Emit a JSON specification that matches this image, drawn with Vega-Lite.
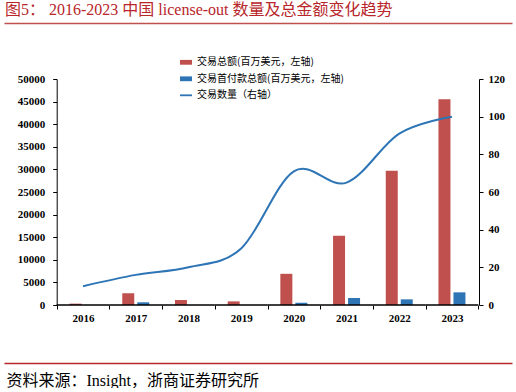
{
  "$schema": "https://vega.github.io/schema/vega-lite/v6.json",
  "padding": {"left": 4, "right": 4, "top": 2, "bottom": 0},
  "background": "white",
  "width": 508,
  "height": 226,
  "title": {"text": "图5：  2016-2023 中国 license-out 数量及总金额变化趋势", "anchor": "start", "frame": "group", "font": "Liberation Serif, Noto Sans CJK SC", "fontSize": 16, "fontWeight": "normal", "color": "#b8262b", "offset": 5, "dx": 1},
  "datasets": {
    "bars": [
      {"year": "2016", "series": "交易总额(百万美元，左轴)", "value": 300},
      {"year": "2017", "series": "交易总额(百万美元，左轴)", "value": 2600},
      {"year": "2018", "series": "交易总额(百万美元，左轴)", "value": 1100},
      {"year": "2019", "series": "交易总额(百万美元，左轴)", "value": 800},
      {"year": "2020", "series": "交易总额(百万美元，左轴)", "value": 6900},
      {"year": "2021", "series": "交易总额(百万美元，左轴)", "value": 15300},
      {"year": "2022", "series": "交易总额(百万美元，左轴)", "value": 29700},
      {"year": "2023", "series": "交易总额(百万美元，左轴)", "value": 45500},
      {"year": "2016", "series": "交易首付款总额(百万美元，左轴)", "value": 0},
      {"year": "2017", "series": "交易首付款总额(百万美元，左轴)", "value": 600},
      {"year": "2018", "series": "交易首付款总额(百万美元，左轴)", "value": 0},
      {"year": "2019", "series": "交易首付款总额(百万美元，左轴)", "value": 0},
      {"year": "2020", "series": "交易首付款总额(百万美元，左轴)", "value": 500},
      {"year": "2021", "series": "交易首付款总额(百万美元，左轴)", "value": 1550},
      {"year": "2022", "series": "交易首付款总额(百万美元，左轴)", "value": 1250},
      {"year": "2023", "series": "交易首付款总额(百万美元，左轴)", "value": 2800}
    ],
    "counts": [
      {"year": "2016", "count": 10},
      {"year": "2017", "count": 16},
      {"year": "2018", "count": 20},
      {"year": "2019", "count": 30},
      {"year": "2020", "count": 71},
      {"year": "2021", "count": 65},
      {"year": "2022", "count": 91},
      {"year": "2023", "count": 100}
    ]
  },
  "layer": [
    {
      "data": {"name": "bars"},
      "mark": {"type": "bar"},
      "encoding": {
        "x": {
          "field": "year", "type": "ordinal",
          "scale": {"paddingInner": 0, "paddingOuter": 0.8197, "align": 0.61},
          "axis": {"orient": "bottom", "offset": -282, "title": null, "labels": false, "ticks": false, "domain": true, "domainColor": "#c0504d", "domainWidth": 1.5, "grid": false}
        },
        "xOffset": {
          "field": "series", "type": "nominal",
          "scale": {"domain": ["交易总额(百万美元，左轴)", "交易首付款总额(百万美元，左轴)"], "paddingInner": 0.2, "paddingOuter": 0.857}
        },
        "y": {
          "field": "value", "type": "quantitative",
          "scale": {"domain": [0, 50000]},
          "axis": {"orient": "left", "offset": -52.7, "values": [0, 5000, 10000, 15000, 20000, 25000, 30000, 35000, 40000, 45000, 50000], "format": "d", "title": null, "labelFont": "Liberation Serif", "labelFontWeight": "bold", "labelFontSize": 11, "labelColor": "black", "labelPadding": 8, "tickSize": 4, "tickColor": "black", "domainColor": "black", "grid": false}
        },
        "color": {
          "field": "series", "type": "nominal",
          "scale": {"domain": ["交易总额(百万美元，左轴)", "交易首付款总额(百万美元，左轴)", "交易数量（右轴）"], "range": ["#c0504d", "#2e75b6", "#2e75b6"]},
          "legend": {
            "title": null, "orient": "none", "legendX": 176, "legendY": -22.7, "padding": 0,
            "labelFont": "Noto Sans CJK SC", "labelFontSize": 10, "labelColor": "black", "labelOffset": 5,
            "symbolSize": 144, "rowPadding": 5.5,
            "encode": {
              "symbols": {
                "update": {
                  "shape": {"signal": "datum.value === '交易数量（右轴）' ? 'M-1,-0.15H1V0.15H-1Z' : 'M-1,-0.4H1V0.4H-1Z'"},
                  "fill": {"scale": "color", "field": "value"},
                  "strokeWidth": {"value": 0}
                }
              }
            }
          }
        }
      }
    },
    {
      "data": {"name": "counts"},
      "mark": {"type": "rect", "fill": null, "stroke": "black", "strokeWidth": 1},
      "encoding": {
        "x": {
          "field": "year", "type": "ordinal",
          "axis": {"orient": "bottom", "title": null, "labelAngle": 0, "tickBand": "extent", "domain": false, "tickColor": "black", "tickSize": 4, "labelFont": "Liberation Serif", "labelFontWeight": "bold", "labelFontSize": 11, "labelColor": "black", "labelPadding": 3, "grid": false}
        },
        "y": {"datum": 0, "type": "quantitative", "scale": {"domain": [0, 1]}, "axis": null},
        "y2": {"datum": 0}
      }
    },
    {
      "data": {"name": "counts"},
      "mark": {"type": "line", "interpolate": "cardinal", "strokeWidth": 2},
      "encoding": {
        "x": {
          "field": "year", "type": "ordinal",
          "axis": {"orient": "bottom", "offset": 58, "labels": false, "ticks": false, "domainColor": "#b8262b", "domainWidth": 1.5, "grid": false,
            "title": "资料来源：Insight，浙商证券研究所", "titleAnchor": "start", "titleAlign": "left", "titleFont": "Liberation Serif, Noto Sans CJK SC", "titleFontSize": 16, "titleFontWeight": "normal", "titleColor": "black", "titlePadding": 9, "titleX": 2}
        },
        "y": {
          "field": "count", "type": "quantitative",
          "scale": {"domain": [0, 120]},
          "axis": {"orient": "right", "offset": -33, "values": [0, 20, 40, 60, 80, 100, 120], "title": null, "labelFont": "Liberation Serif", "labelFontWeight": "bold", "labelFontSize": 11, "labelColor": "black", "labelPadding": 5, "tickSize": 4, "tickColor": "black", "domainColor": "black", "grid": false}
        },
        "color": {"datum": "交易数量（右轴）", "type": "nominal"}
      }
    }
  ],
  "resolve": {"scale": {"y": "independent"}, "axis": {"x": "independent", "y": "independent"}},
  "config": {"view": {"stroke": null}, "axis": {"grid": false}}
}
